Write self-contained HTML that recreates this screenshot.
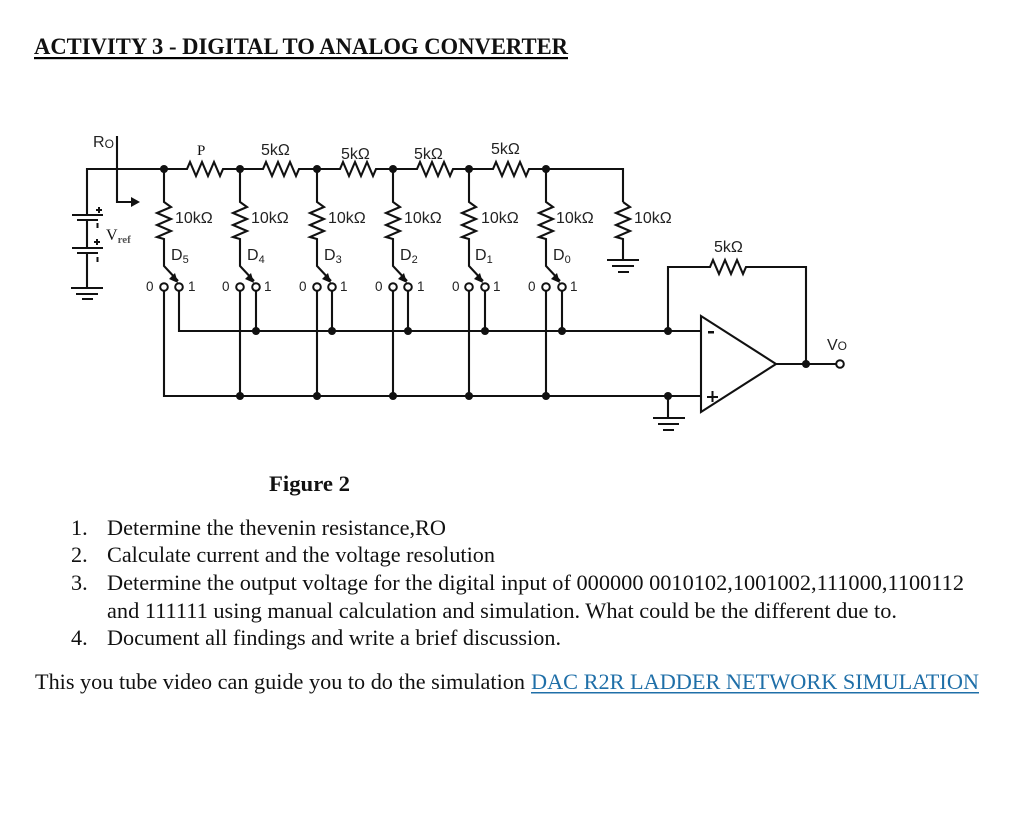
<!DOCTYPE html>
<html><head><meta charset="utf-8"><style>
html,body{margin:0;padding:0;background:#fff;width:1010px;height:835px;overflow:hidden}
svg{display:block}
.s{font-family:"Liberation Serif",serif;fill:#111}
.a{font-family:"Liberation Sans",sans-serif;fill:#222}
.t{font-family:"Liberation Serif",serif;font-size:22.2px;fill:#111}
.w{fill:none;stroke:#111;stroke-width:2.1}
</style></head><body>
<svg width="1010" height="835" viewBox="0 0 1010 835" xmlns="http://www.w3.org/2000/svg">
<rect width="1010" height="835" fill="#fff"/>
<text class="s" x="34" y="54" font-size="23" font-weight="bold" textLength="534" lengthAdjust="spacingAndGlyphs">ACTIVITY 3 - DIGITAL TO ANALOG CONVERTER</text>
<rect x="34" y="57" width="534" height="2.2" fill="#000"/>

<g class="w">
<!-- top rail -->
<path d="M87 215V169H187l3-7 6 14 6-14 6 14 6-14 6 14 3-7H263l3-7 6 14 6-14 6 14 6-14 6 14 3-7H340l3-7 6 14 6-14 6 14 6-14 6 14 3-7H417l3-7 6 14 6-14 6 14 6-14 6 14 3-7H493l3-7 6 14 6-14 6 14 6-14 6 14 3-7H623V202"/>
<!-- vertical resistors and switches -->
<path d="M164 169V202l7 5-14 6 14 6-14 6 14 6-14 6 7 2V266L178 281"/>
<path d="M240 169V202l7 5-14 6 14 6-14 6 14 6-14 6 7 2V266L254 281"/>
<path d="M317 169V202l7 5-14 6 14 6-14 6 14 6-14 6 7 2V266L331 281"/>
<path d="M393 169V202l7 5-14 6 14 6-14 6 14 6-14 6 7 2V266L407 281"/>
<path d="M469 169V202l7 5-14 6 14 6-14 6 14 6-14 6 7 2V266L483 281"/>
<path d="M546 169V202l7 5-14 6 14 6-14 6 14 6-14 6 7 2V266L560 281"/>
<path d="M623 202l7 5-14 6 14 6-14 6 14 6-14 6 7 2V260"/>
<!-- buses -->
<path d="M179 291V331H701"/>
<path d="M256 291V331M332 291V331M408 291V331M485 291V331M562 291V331"/>
<path d="M164 291V396H701"/>
<path d="M240 291V396M317 291V396M393 291V396M469 291V396M546 291V396"/>
<!-- feedback -->
<path d="M668 331V267H710l3-7 6 14 6-14 6 14 6-14 6 14 3-7H806V364"/>
<path d="M701 316V412L776 364Z"/>
<path d="M776 364H836"/>
<path d="M668 396V418"/>
<!-- grounds -->
<path d="M653 418H685M658 424H679M663 430H674"/>
<path d="M607 260H639M612 266H634M618 272H629"/>
<!-- battery -->
<path d="M72 215H103M77 220H98M72 248H103M77 253H98M87 220V248M87 253V288"/>
<path d="M71 288H103M76 294H98M82 299H93"/>
<!-- Ro arrow -->
<path d="M117 136V202H136"/>
</g>
<path d="M140 202L131 197V207Z" fill="#111"/>
<g fill="#111">
<path d="M178 283L175 273 169 279Z"/><path d="M254 283L251 273 245 279Z"/><path d="M331 283L328 273 322 279Z"/><path d="M407 283L404 273 398 279Z"/><path d="M483 283L480 273 474 279Z"/><path d="M560 283L557 273 551 279Z"/>
<circle cx="164" cy="169" r="4"/><circle cx="240" cy="169" r="4"/><circle cx="317" cy="169" r="4"/><circle cx="393" cy="169" r="4"/><circle cx="469" cy="169" r="4"/><circle cx="546" cy="169" r="4"/>
<circle cx="256" cy="331" r="4"/><circle cx="332" cy="331" r="4"/><circle cx="408" cy="331" r="4"/><circle cx="485" cy="331" r="4"/><circle cx="562" cy="331" r="4"/><circle cx="668" cy="331" r="4"/>
<circle cx="240" cy="396" r="4"/><circle cx="317" cy="396" r="4"/><circle cx="393" cy="396" r="4"/><circle cx="469" cy="396" r="4"/><circle cx="546" cy="396" r="4"/><circle cx="668" cy="396" r="4"/>
<circle cx="806" cy="364" r="4"/>
<rect x="96" y="209" width="6" height="2"/><rect x="98" y="207" width="2" height="6"/><rect x="96.500" y="223" width="2" height="5"/>
<rect x="94" y="241" width="6" height="2"/><rect x="96" y="239" width="2" height="6"/><rect x="96.500" y="257" width="2" height="5"/>
<rect x="708" y="331" width="6" height="2.500"/>
<rect x="707" y="396" width="11" height="2"/><rect x="711.500" y="391" width="2" height="11"/>
</g>
<g fill="#fff" stroke="#111" stroke-width="2">
<circle cx="164" cy="287" r="3.800"/><circle cx="179" cy="287" r="3.800"/>
<circle cx="240" cy="287" r="3.800"/><circle cx="256" cy="287" r="3.800"/>
<circle cx="317" cy="287" r="3.800"/><circle cx="332" cy="287" r="3.800"/>
<circle cx="393" cy="287" r="3.800"/><circle cx="408" cy="287" r="3.800"/>
<circle cx="469" cy="287" r="3.800"/><circle cx="485" cy="287" r="3.800"/>
<circle cx="546" cy="287" r="3.800"/><circle cx="562" cy="287" r="3.800"/>
<circle cx="840" cy="364" r="3.800"/>
</g>

<!-- labels -->
<g class="a" font-size="16">
<text x="261" y="155">5kΩ</text><text x="341" y="159">5kΩ</text><text x="414" y="159">5kΩ</text><text x="491" y="154">5kΩ</text><text x="714" y="252">5kΩ</text>
<text x="175" y="223">10kΩ</text><text x="251" y="223">10kΩ</text><text x="328" y="223">10kΩ</text><text x="404" y="223">10kΩ</text><text x="481" y="223">10kΩ</text><text x="556" y="223">10kΩ</text><text x="634" y="223">10kΩ</text>
<text x="93" y="147">R<tspan font-size="12" dy="1">O</tspan></text>
<text x="171" y="260">D<tspan font-size="11" dy="3">5</tspan></text>
<text x="247" y="260">D<tspan font-size="11" dy="3">4</tspan></text>
<text x="324" y="260">D<tspan font-size="11" dy="3">3</tspan></text>
<text x="400" y="260">D<tspan font-size="11" dy="3">2</tspan></text>
<text x="475" y="260">D<tspan font-size="11" dy="3">1</tspan></text>
<text x="553" y="260">D<tspan font-size="11" dy="3">0</tspan></text>
<text x="827" y="350">V<tspan font-size="12" dy="0">O</tspan></text>
</g>
<g class="a" font-size="13.500">
<text x="146" y="291">0</text><text x="188" y="291">1</text>
<text x="222" y="291">0</text><text x="264" y="291">1</text>
<text x="299" y="291">0</text><text x="340" y="291">1</text>
<text x="375" y="291">0</text><text x="417" y="291">1</text>
<text x="452" y="291">0</text><text x="493" y="291">1</text>
<text x="528" y="291">0</text><text x="570" y="291">1</text>
</g>
<text class="s" x="197" y="155" font-size="15">P</text>
<text class="s" x="106" y="240" font-size="16">V<tspan font-size="11" dy="3" font-weight="bold" fill="#555">ref</tspan></text>

<!-- text -->
<text class="s" x="269" y="491" font-size="22" font-weight="bold" textLength="81" lengthAdjust="spacingAndGlyphs">Figure 2</text>
<text class="t" x="71" y="535">1.</text><text class="t" x="107" y="535" textLength="339" lengthAdjust="spacingAndGlyphs">Determine the thevenin resistance,RO</text>
<text class="t" x="71" y="562">2.</text><text class="t" x="107" y="562" textLength="388" lengthAdjust="spacingAndGlyphs">Calculate current and the voltage resolution</text>
<text class="t" x="71" y="590">3.</text><text class="t" x="107" y="590" textLength="857" lengthAdjust="spacingAndGlyphs">Determine the output voltage for the digital input of 000000 0010102,1001002,111000,1100112</text>
<text class="t" x="107" y="618" textLength="790" lengthAdjust="spacingAndGlyphs">and 111111 using manual calculation and simulation. What could be the different due to.</text>
<text class="t" x="71" y="645">4.</text><text class="t" x="107" y="645" textLength="454" lengthAdjust="spacingAndGlyphs">Document all findings and write a brief discussion.</text>
<text class="t" x="35" y="689" textLength="490" lengthAdjust="spacingAndGlyphs">This you tube video can guide you to do the simulation</text>
<text class="t" x="531" y="689" textLength="448" lengthAdjust="spacingAndGlyphs" style="fill:#1f6fa8">DAC R2R LADDER NETWORK SIMULATION</text>
<rect x="531" y="692" width="448" height="1.500" fill="#1f6fa8"/>
</svg>
</body></html>
